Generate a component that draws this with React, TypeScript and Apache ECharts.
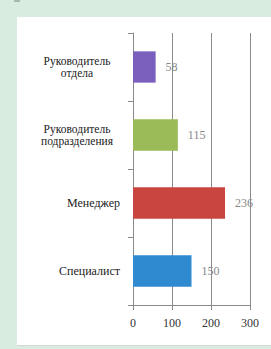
import React, { useEffect, useRef } from "react";
import * as echarts from "echarts";

const categories = ["Специалист", "Менеджер", "Руководитель\nподразделения", "Руководитель\nотдела"];
const values = [150, 236, 115, 58];
const barColors = ["#2f8ad0", "#c8463f", "#9bbb59", "#7a5fbc"];
const xTicks = [0, 100, 200, 300];

const SERIF = "serif";

export default function App() {
  const ref = useRef<HTMLDivElement>(null);
  useEffect(() => {
    if (!ref.current) return;
    const chart = echarts.init(ref.current, null, { renderer: "svg" });
    chart.setOption({
      animation: false,
      backgroundColor: "transparent",
      grid: { left: 133, right: 21, top: 33, bottom: 44, containLabel: false },
      xAxis: {
        type: "value",
        min: xTicks[0],
        max: xTicks[xTicks.length - 1],
        interval: 100,
        axisLine: { show: true, lineStyle: { color: "#8a8a8a", width: 1 } },
        axisTick: { show: true, length: 5, lineStyle: { color: "#8a8a8a" } },
        splitLine: { show: true, lineStyle: { color: "#8a8a8a", width: 1 } },
        axisLabel: {
          fontFamily: SERIF,
          fontSize: 12,
          color: "#333",
          margin: 12,
        },
      },
      yAxis: {
        type: "category",
        data: categories,
        axisLine: { show: true, lineStyle: { color: "#8a8a8a", width: 1 } },
        axisTick: { show: true, length: 5, lineStyle: { color: "#8a8a8a" } },
        splitLine: { show: false },
        axisLabel: {
          fontFamily: SERIF,
          fontSize: 12,
          color: "#222",
          margin: 13,
          align: "right",
          lineHeight: 12,
          formatter: (v: string) => {
            if (v.indexOf("\n") < 0) return v;
            return v
              .split("\n")
              .map((line) => "{c|" + line + "}")
              .join("\n");
          },
          rich: {
            c: {
              width: 86,
              align: "center",
              fontFamily: SERIF,
              fontSize: 11.5,
              color: "#222",
              lineHeight: 12,
            },
          },
        },
      },
      series: [
        {
          type: "bar",
          barWidth: "46%",
          data: values.map((v, i) => ({ value: v, itemStyle: { color: barColors[i] } })),
          label: {
            show: true,
            position: "right",
            distance: 10,
            fontFamily: SERIF,
            fontSize: 12,
            color: "#888",
          },
        },
      ],
    });
    return () => chart.dispose();
  }, []);
  return (
    <div style={{ position: "fixed", left: 0, top: 0, width: 271, height: 349, background: "#d8ecdf", overflow: "hidden" }}>
      <div style={{ position: "absolute", left: 17, top: 17, width: 254, height: 328, background: "#ffffff", borderBottom: "1px solid #d4d4d4" }} />
      <div style={{ position: "absolute", left: 14, top: 0, width: 6, height: 2, background: "#a8b8ac" }} />
      <div ref={ref} style={{ position: "absolute", left: 0, top: 0, width: 271, height: 349 }} />
    </div>
  );
}
